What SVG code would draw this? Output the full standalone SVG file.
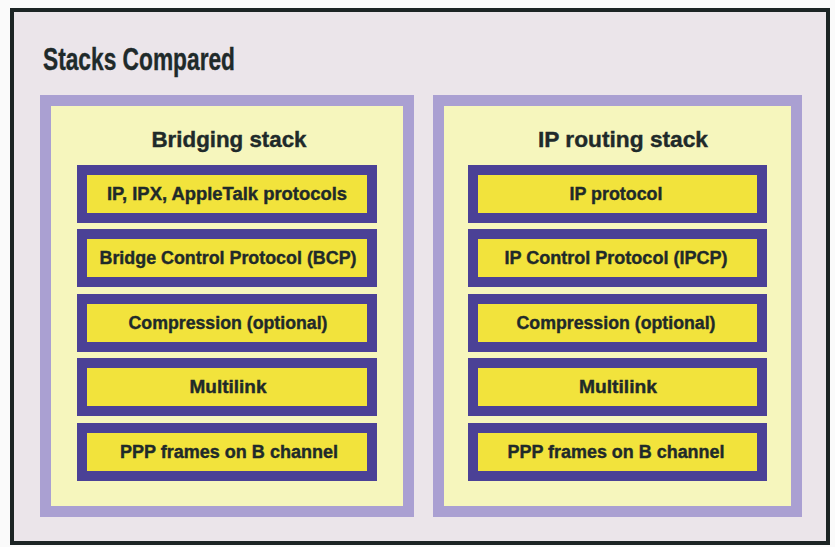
<svg xmlns="http://www.w3.org/2000/svg" width="835" height="547" viewBox="0 0 835 547">
<style>
.frame{fill:#ebe5ea;stroke:#1c2424;stroke-width:4}
.panel{fill:#f6f6bd;stroke:#aaa0d2;stroke-width:11}
.box{fill:#f2e33c;stroke:#4b4196;stroke-width:10}
text{font-family:"Liberation Sans",Arial,sans-serif;font-weight:bold;fill:#1f2a2a;stroke:#1f2a2a;stroke-width:0.4}
.lbl{font-size:18px;text-anchor:middle}
.ttl{font-size:22px;text-anchor:middle}
.main{font-size:32px}
</style>
<rect width="835" height="547" fill="#fafafa"/>
<rect class="frame" x="12" y="10" width="816" height="533"/>
<text class="main" x="43" y="70" textLength="192" lengthAdjust="spacingAndGlyphs">Stacks Compared</text>

<g id="bridging-stack">
<rect class="panel" x="45.5" y="100.5" width="363" height="411"/>
<text class="ttl" x="229" y="147" textLength="155" lengthAdjust="spacingAndGlyphs">Bridging stack</text>
</g>
<g id="b1"><rect class="box" x="82" y="170" width="290" height="48"/><text class="lbl" x="227" y="200" textLength="240" lengthAdjust="spacingAndGlyphs">IP, IPX, AppleTalk protocols</text></g>
<g id="b2"><rect class="box" x="82" y="234" width="290" height="48"/><text class="lbl" x="228" y="264" textLength="257" lengthAdjust="spacingAndGlyphs">Bridge Control Protocol (BCP)</text></g>
<g id="b3"><rect class="box" x="82" y="299" width="290" height="48"/><text class="lbl" x="228" y="329" textLength="199" lengthAdjust="spacingAndGlyphs">Compression (optional)</text></g>
<g id="b4"><rect class="box" x="82" y="363" width="290" height="48"/><text class="lbl" x="228" y="393" textLength="77" lengthAdjust="spacingAndGlyphs">Multilink</text></g>
<g id="b5"><rect class="box" x="82" y="428" width="290" height="48"/><text class="lbl" x="229" y="458" textLength="218" lengthAdjust="spacingAndGlyphs">PPP frames on B channel</text></g>

<g id="ip-routing-stack">
<rect class="panel" x="438.5" y="100.5" width="358" height="411"/>
<text class="ttl" x="623" y="147" textLength="170" lengthAdjust="spacingAndGlyphs">IP routing stack</text>
</g>
<g id="r1"><rect class="box" x="473" y="170" width="289" height="48"/><text class="lbl" x="616" y="200" textLength="93" lengthAdjust="spacingAndGlyphs">IP protocol</text></g>
<g id="r2"><rect class="box" x="473" y="234" width="289" height="48"/><text class="lbl" x="616" y="264" textLength="223" lengthAdjust="spacingAndGlyphs">IP Control Protocol (IPCP)</text></g>
<g id="r3"><rect class="box" x="473" y="299" width="289" height="48"/><text class="lbl" x="616" y="329" textLength="199" lengthAdjust="spacingAndGlyphs">Compression (optional)</text></g>
<g id="r4"><rect class="box" x="473" y="363" width="289" height="48"/><text class="lbl" x="618" y="393" textLength="78" lengthAdjust="spacingAndGlyphs">Multilink</text></g>
<g id="r5"><rect class="box" x="473" y="428" width="289" height="48"/><text class="lbl" x="616" y="458" textLength="217" lengthAdjust="spacingAndGlyphs">PPP frames on B channel</text></g>
<g id="connectors"/>
</svg>
